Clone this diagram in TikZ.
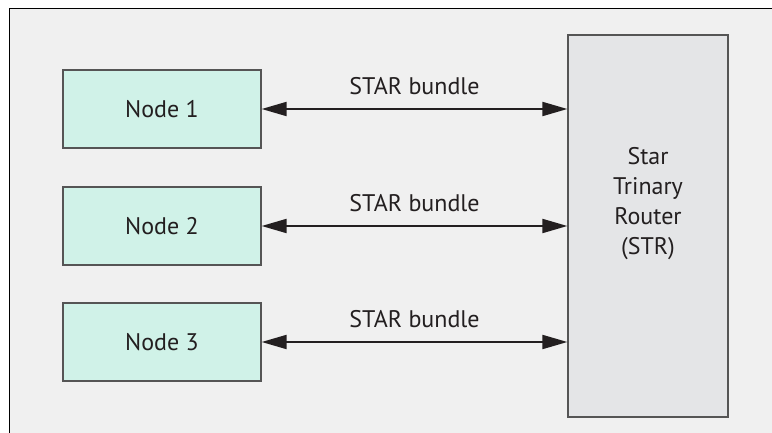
\documentclass[tikz,border=0pt]{standalone}
\usepackage{fontspec}
\setmainfont{PT Sans}
\usetikzlibrary{arrows.meta,positioning}
\definecolor{panel}{HTML}{F0F0F0}
\definecolor{nodefill}{HTML}{D0F2E8}
\definecolor{strfill}{HTML}{E4E5E7}
\definecolor{edge}{HTML}{555555}
\definecolor{ink}{HTML}{231F20}
\tikzset{
  nbox/.style={draw=edge,line width=1.3pt,fill=nodefill,minimum width=198pt,minimum height=78pt,inner sep=0pt,font=\fontsize{24}{30}\selectfont,text=ink},
  rbox/.style={nbox,fill=strfill,minimum width=160pt,minimum height=382pt},
  link/.style={{Triangle[length=25pt,width=14pt]}-{Triangle[length=25pt,width=14pt]},line width=2pt,draw=ink},
  lbl/.style={font=\fontsize{24}{30}\selectfont,text=ink,inner sep=0pt,above=13pt},
}

\begin{document}
\begin{tikzpicture}[x=1pt,y=-1pt]
  \useasboundingbox (0,0) rectangle (772,433);
  % panel
  \fill[panel] (9,9) rectangle (772,433);
  \draw[line width=1pt] (9,433) -- (9,9) -- (772,9);

  \node[nbox] (n1) at (162,109) {Node 1};
  \node[nbox] (n2) at (162,226) {Node 2};
  \node[nbox] (n3) at (162,342) {Node 3};
  \node[rbox, label={[font=\fontsize{24}{30}\selectfont,text=ink,align=center,yshift=22pt]center:Star\\Trinary\\Router\\(STR)}] (str) at (648,226) {};

  \draw[link] (n1.east) -- node[lbl]{STAR bundle} (n1.east -| str.west);
  \draw[link] (n2.east) -- node[lbl]{STAR bundle} (n2.east -| str.west);
  \draw[link] (n3.east) -- node[lbl]{STAR bundle} (n3.east -| str.west);
\end{tikzpicture}
\end{document}
